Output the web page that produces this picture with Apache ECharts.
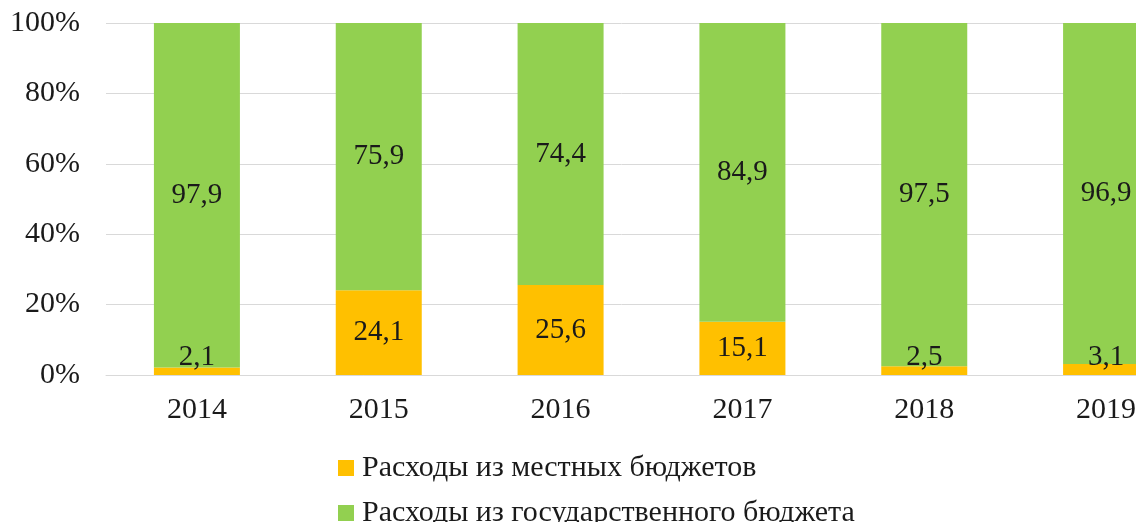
<!DOCTYPE html>
<html>
<head>
<meta charset="utf-8">
<style>
  html, body { margin: 0; padding: 0; background: #fff; }
  #chart { width: 1136px; height: 522px; }
</style>
<script src="https://cdn.jsdelivr.net/npm/echarts@6/dist/echarts.min.js"></script>
</head>
<body>
<div id="chart"></div>
<script>
var years = ["2014", "2015", "2016", "2017", "2018", "2019"];
var localBudget = [2.1, 24.1, 25.6, 15.1, 2.5, 3.1];
var stateBudget = [97.9, 75.9, 74.4, 84.9, 97.5, 96.9];
var yTicks = [0, 20, 40, 60, 80, 100];
var seriesNames = ["Расходы из местных бюджетов", "Расходы из государственного бюджета"];

var FONT = "Liberation Serif";
var TEXT = "#1a1a1a";
var chart = echarts.init(document.getElementById("chart"));

function fmt(v) {
  return String(v).replace(".", ",");
}

// small segments get their label lifted to sit just above the axis
var localData = localBudget.map(function (v) {
  if (v < 5) {
    return { value: v, label: { position: "insideBottom", distance: 3 } };
  }
  return v;
});

function legendFor(name, top) {
  return {
    data: [name],
    left: 338,
    top: top,
    padding: 0,
    itemWidth: 16,
    itemHeight: 16,
    icon: "rect",
    selectedMode: false,
    textStyle: { fontFamily: FONT, fontSize: 30, lineHeight: 30, color: TEXT, padding: [0, 0, 0, 3] }
  };
}

var barLabel = {
  show: true,
  position: "inside",
  fontFamily: FONT,
  fontSize: 29,
  color: TEXT,
  formatter: function (p) { return fmt(p.value); }
};

chart.setOption({
  animation: false,
  color: ["#FFC000", "#92D050"],
  textStyle: { fontFamily: FONT, color: TEXT },
  grid: { left: 106, top: 23, width: 1091, height: 352, outerBoundsMode: "none" },
  legend: [legendFor(seriesNames[0], 453), legendFor(seriesNames[1], 498)],
  xAxis: {
    type: "category",
    data: years,
    axisLine: { lineStyle: { color: "#d9d9d9" } },
    axisTick: { show: false },
    axisLabel: { fontFamily: FONT, fontSize: 30, color: TEXT, margin: 20 }
  },
  yAxis: {
    type: "value",
    min: yTicks[0],
    max: yTicks[yTicks.length - 1],
    interval: 20,
    axisLine: { show: false },
    axisTick: { show: false },
    splitLine: { lineStyle: { color: "#d9d9d9" } },
    axisLabel: {
      fontFamily: FONT,
      fontSize: 30,
      color: TEXT,
      margin: 26,
      formatter: function (v) { return v + "%"; }
    }
  },
  series: [
    {
      name: seriesNames[0],
      type: "bar",
      stack: "total",
      barWidth: 86,
      data: localData,
      label: barLabel
    },
    {
      name: seriesNames[1],
      type: "bar",
      stack: "total",
      barWidth: 86,
      data: stateBudget,
      label: barLabel
    }
  ]
});
</script>
</body>
</html>
